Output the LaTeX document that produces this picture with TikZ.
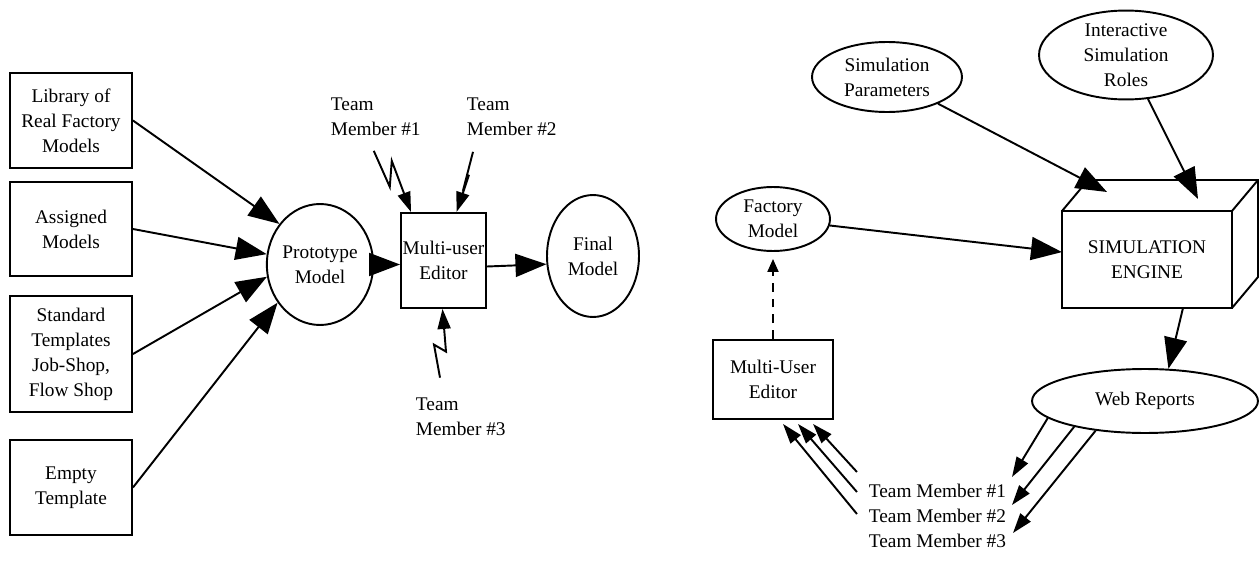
\documentclass[tikz,border=0pt]{standalone}
\usepackage{fontspec}
\setmainfont{Liberation Serif}
\usepackage{tikz}
\usetikzlibrary{arrows.meta,calc,positioning,shapes.geometric}

\begin{document}
\begin{tikzpicture}[
  x=0.02cm, y=-0.02cm,
  font=\fontsize{11}{14.2}\selectfont,
  line width=1.1pt,
  src/.style={draw, minimum width=2.44cm, align=center, inner sep=0pt},
  blob/.style={draw, ellipse, align=center, inner sep=0pt},
  lbl/.style={align=left, inner sep=0pt},
  arr/.style={-{Triangle[length=6.2mm, width=4.6mm]}},
  thin arr/.style={-{Triangle[length=4mm, width=2.6mm]}},
  dash arr/.style={-{Triangle[length=2.6mm, width=2.2mm]}, dash pattern=on 5pt off 4pt},
  bolt/.style={thin arr, line join=miter}
]
\useasboundingbox (0,0) rectangle (1259,561);
\node[src, minimum height=1.9cm] (lib) at (71,120.5) {Library of\\Real Factory\\Models};
\node[src, minimum height=1.88cm] (assigned) at (71,229) {Assigned\\Models};
\node[src, minimum height=2.32cm] (std) at (71,354) {Standard\\Templates\\Job-Shop,\\Flow Shop};
\node[src, minimum height=1.9cm] (empty) at (71,487.5) {Empty\\Template};
\node[blob, minimum width=1.88cm, minimum height=2.42cm] (proto) at (320,264.5) {Prototype\\Model};
\node[src, minimum width=1.7cm, minimum height=1.9cm] (editor) at (443.5,260.5) {Multi-user\\Editor};
\node[blob, minimum width=1.84cm, minimum height=2.44cm] (final) at (593,256) {Final\\Model};
\node[lbl, anchor=west] (tm1) at (330,117) {Team\\Member \#1};
\node[lbl, anchor=west] (tm2) at (466,117) {Team\\Member \#2};
\node[lbl, anchor=west] (tm3) at (415,416.5) {Team\\Member \#3};
\draw[arr] (lib.east) -- (proto.135);
\draw[arr] (assigned.east) -- (proto.169);
\draw[arr] (std.east) -- (proto.193);
\draw[arr] (empty.east) -- (proto.222);
\draw[arr] (proto.east) -- (proto.east -| editor.west);
\draw[arr] ($(editor.east)+(0,6)$) -- (final.190);
\draw[bolt] ($(tm1.south)+(-2,14)$) -- ++(16,36) -- ++(2,-26) -- ($(editor.north west)+(11,0)$);
\draw[bolt] ($(tm2.south west)+(7,15)$) -- ++(-8,31) -- ++(4,-8) -- ($(editor.north)+(13,0)$);
\draw[bolt] ($(tm3.north west)+(25,-19)$) -- ++(-6,-33) -- ++(12,7) -- ($(editor.south)+(-1,0)$);

\node[blob, minimum width=3cm, minimum height=1.4cm] (simpar) at (887,77) {Simulation\\Parameters};
\node[blob, minimum width=3.48cm, minimum height=1.72cm] (roles) at (1126,55) {Interactive\\Simulation\\Roles};
\node[src, minimum width=3.4cm, minimum height=1.94cm, outer sep=0pt] (engine) at (1147,259.5) {SIMULATION\\ENGINE};
\draw (engine.north west) -- ++(26,-31) -- ++(170,0) coordinate (backtop) -- (engine.north east)
  (backtop) -- ++(0,97) -- (engine.south east);
\node[blob, minimum width=2.28cm, minimum height=1.28cm] (factory) at (773,219) {Factory\\Model};
\node[src, minimum width=2.4cm, minimum height=1.58cm] (mue) at (773,379.5) {Multi-User\\Editor};
\node[blob, minimum width=4.52cm, minimum height=1.28cm] (webrep) at (1145,401) {Web Reports};
\node[lbl, anchor=base east] (trm1) at (1007,497) {Team Member \#1};
\node[lbl, anchor=base east] (trm2) at (1007,522) {Team Member \#2};
\node[lbl, anchor=base east] (trm3) at (1007,547) {Team Member \#3};
\draw[arr] (simpar) -- ($(engine.north west)+(45,-19)$);
\draw[arr] (roles) -- ($(engine.north west)+(136,-12)$);
\draw[arr] (factory) -- (engine.175);
\draw[arr] ($(engine.south)+(36,0)$) -- (webrep.54);
\draw[dash arr] (mue.north) -- ($(factory.south)+(0,7)$);
\draw[thin arr] ($(trm1.base west)+(-11,-25)$) -- ($(mue.south)+(40,4)$);
\draw[thin arr] ($(trm2.base west)+(-11,-30)$) -- ($(mue.south)+(25,4)$);
\draw[thin arr] ($(trm3.base west)+(-11,-33)$) -- ($(mue.south)+(10,4)$);
\draw[thin arr] (webrep.190) -- ($(trm1.base east)+(5,-20)$);
\draw[thin arr] (webrep.200) -- ($(trm2.base east)+(5,-17)$);
\draw[thin arr] (webrep.211) -- ($(trm3.base east)+(6,-14)$);
\end{tikzpicture}
\end{document}
